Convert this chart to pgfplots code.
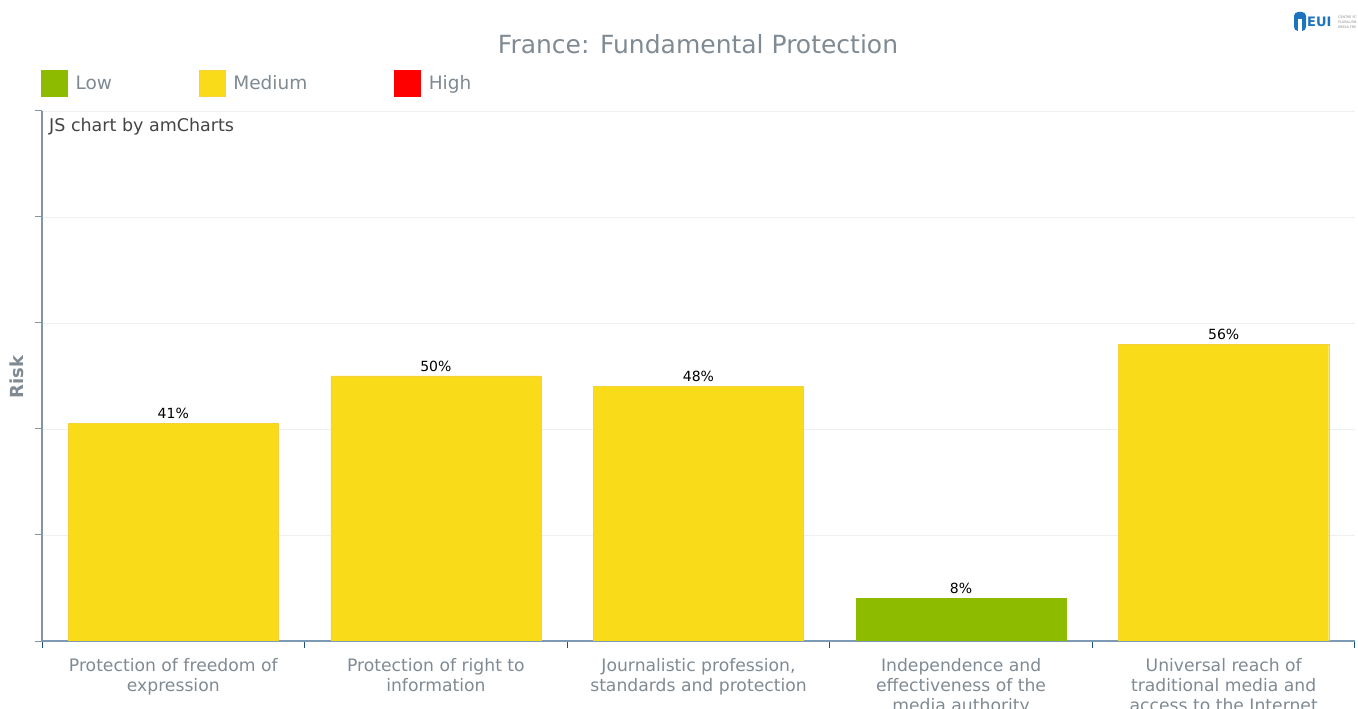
\documentclass[border=0pt]{standalone}
\usepackage{pgfplots}
\pgfplotsset{compat=1.18}
\usepackage{fontspec}
\setmainfont{DejaVu Sans}
\definecolor{lowc}{HTML}{8DBB00}
\definecolor{medc}{HTML}{FADB19}
\definecolor{medEdge}{HTML}{F6D23A}
\definecolor{highc}{HTML}{FF0000}
\definecolor{labelc}{HTML}{7F8A93}
\definecolor{yaxisc}{HTML}{8594A2}
\definecolor{xaxisc}{HTML}{7C9AB3}
\definecolor{xtickc}{HTML}{1F4F7D}
\definecolor{gridc}{HTML}{EFEFEF}
\definecolor{euic}{HTML}{1E73BE}
\definecolor{darkt}{HTML}{444444}
\definecolor{smallg}{HTML}{888888}
\begin{document}
\begin{tikzpicture}
\useasboundingbox (0,0) rectangle (1358bp,709bp);
\begin{axis}[
  at={(42bp,68bp)}, anchor=south west,
  scale only axis, width=1313bp, height=530bp,
  xmin=-0.5, xmax=4.5, ymin=0, ymax=100,
  ybar, bar width=0.8,
  /pgf/number format/assume math mode=true,
  axis x line*=bottom, axis y line*=left,
  x axis line style={draw=xaxisc, line width=1.2bp},
  y axis line style={draw=yaxisc, line width=1.2bp},
  tick align=outside,
  major tick length=7bp,
  ytick={0,20,40,60,80,100}, yticklabels={},
  ytick style={draw=yaxisc, line width=1bp},
  ymajorgrids, y grid style={draw=gridc, line width=0.8bp},
  xtick={-0.5,0.5,1.5,2.5,3.5,4.5}, xticklabels={},
  xtick style={draw=xtickc, line width=1bp},
  extra x ticks={0,1,2,3,4},
  extra x tick labels={Protection of freedom of\\expression, Protection of right to\\information, {Journalistic profession,\\standards and protection}, Independence and\\effectiveness of the\\media authority, Universal reach of\\traditional media and\\access to the Internet},
  extra x tick style={major tick length=0pt, xticklabel style={align=center, text=labelc, font=\fontsize{17.2bp}{20bp}\selectfont, yshift=-14bp}},
  legend columns=3,
  legend style={at={(axis description cs:0,1)}, anchor=south west, yshift=12bp, xshift=-4bp, draw=none, fill=none, font=\fontsize{18.5bp}{22bp}\selectfont, text=labelc, /tikz/every odd column/.append style={column sep=6bp}, /tikz/every even column/.append style={column sep=85bp}, cells={anchor=west}},
  legend image code/.code={\fill[#1] (0bp,-13bp) rectangle (26bp,13bp);},
  nodes near coords={\pgfmathprintnumber{\pgfplotspointmeta}\%},
  every node near coord/.append style={font=\fontsize{14bp}{16bp}\selectfont, text=black, yshift=1bp},
]
\addplot[fill=lowc, draw=lowc, bar shift=0pt] coordinates {(3,8)};
\addlegendentry{Low}
\addplot[fill=medc, draw=medEdge, bar shift=0pt] coordinates {(0,41) (1,50) (2,48) (4,56)};
\addlegendentry{Medium}
\addlegendimage{fill=highc, draw=highc}
\addlegendentry{High}
\end{axis}
\node[text=labelc, font=\fontsize{25bp}{30bp}\selectfont] at (698bp,665bp) {France: Fundamental Protection};
\node[text=labelc, font=\bfseries\fontsize{18bp}{22bp}\selectfont, rotate=90] at (17bp,332bp) {Risk};
\node[text=darkt, font=\fontsize{17.5bp}{20bp}\selectfont, anchor=west, inner sep=0pt] at (49bp,582bp) {JS chart by amCharts};
% EUI logo
\fill[euic, rounded corners=4bp] (1294bp,678bp) rectangle (1306bp,697bp);
\fill[white] (1298bp,678bp) rectangle (1302bp,690bp);
\node[text=euic, font=\bfseries\fontsize{13bp}{13bp}\selectfont, anchor=west, inner sep=0pt] at (1307bp,687bp) {EUI};
\node[text=smallg, font=\fontsize{3.3bp}{5bp}\selectfont, anchor=west, inner sep=0pt, align=left] at (1338bp,687bp) {CENTRE FC\\PLURALISM\\MEDIA FRE};
\end{tikzpicture}
\end{document}
